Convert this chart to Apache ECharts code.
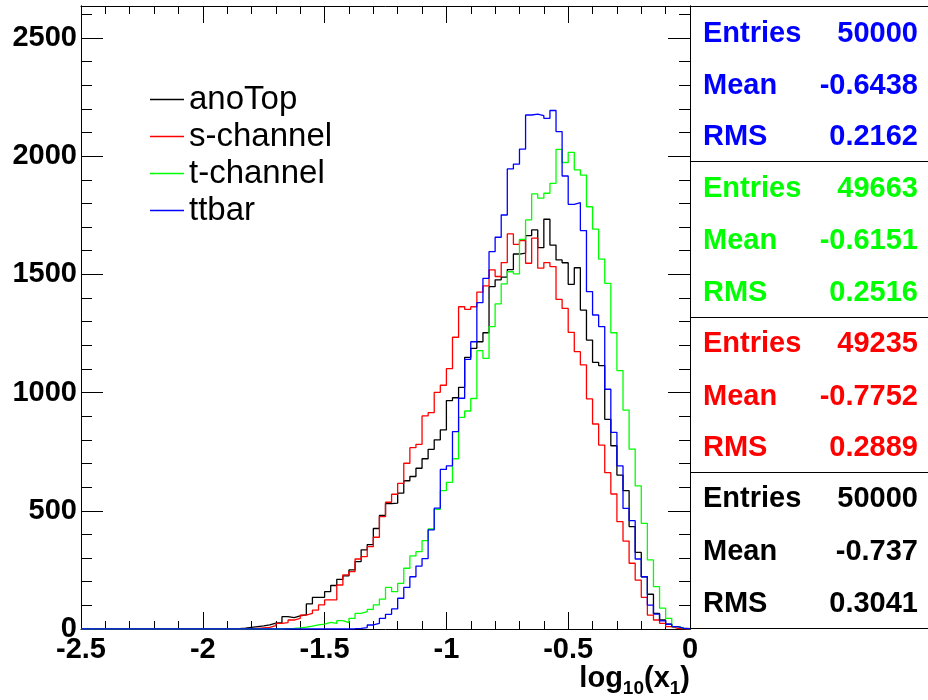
<!DOCTYPE html>
<html>
<head>
<meta charset="utf-8">
<script src="https://cdn.jsdelivr.net/npm/echarts@6/dist/echarts.min.js"></script>
<style>html,body{margin:0;padding:0;background:#fff;}#chart{width:928px;height:700px;}</style>
</head>
<body>
<div id="chart"></div>
<script>
// Histogram binning (100 bins from -2.5 to 0)
var xMin = -2.5, xMax = 0, nBins = 100;
var yMax = 2635;
var xTickLabels = ['-2.5', '-2', '-1.5', '-1', '-0.5', '0'];
var yTickLabels = ['0', '500', '1000', '1500', '2000', '2500'];

var seriesNames = ['anoTop', 's-channel', 't-channel', 'ttbar'];
var seriesColors = ['#000000', '#ff0000', '#00ff00', '#0000ff'];

var anoTop = [0,0,0,0,0,0,0,0,0,0, 0,0,0,0,0,0,0,0,0,0, 0,0,0,1,1,2,4,7,10,13,
  17,25,27,52,48,56,60,106,134,134, 158,184,210,225,250,285,335,357,425,480,
  530,532,575,627,645,680,720,760,800,842, 966,978,1022,1149,1187,1215,1253,1448,1477,1488,
  1520,1586,1590,1664,1688,1613,1733,1624,1561,1549, 1458,1528,1349,1222,1128,1114,887,775,651,585,
  433,324,221,147,66,38,21,10,4,1];
var sChannel = [0,0,0,0,0,0,0,0,0,0, 0,0,0,0,0,0,0,0,0,0, 0,0,0,0,0,0,0,1,3,5,
  7,14,24,27,38,45,59,66,80,102, 123,123,186,229,243,296,306,348,388,475,
  536,570,616,701,767,781,901,915,1001,1031, 1101,1234,1363,1352,1363,1425,1451,1519,1491,1550,
  1671,1627,1643,1547,1653,1526,1550,1533,1394,1356, 1255,1173,1117,973,867,778,661,571,454,372,
  278,207,134,59,38,24,10,3,1,0];
var tChannel = [0,0,0,0,0,0,0,0,0,0, 0,0,0,0,0,0,0,0,0,0, 0,0,0,0,0,0,0,0,0,0,
  0,0,0,2,3,5,8,12,17,21, 28,24,35,27,45,66,73,83,102,126,
  176,158,193,257,309,327,374,423,506,585, 620,720,895,922,975,1177,1145,1279,1375,1460,
  1511,1502,1648,1730,1840,1822,1843,1885,2029,1973, 2016,1942,1920,1786,1691,1564,1462,1253,1093,926,
  761,605,447,292,179,88,45,10,3,1];
var ttbar = [0,0,0,0,0,0,0,0,0,0, 0,0,0,0,0,0,0,0,0,0, 0,0,0,0,0,0,0,0,0,0,
  0,0,0,0,0,0,0,0,0,0, 0,0,0,0,1,3,6,17,24,45,
  62,85,130,176,221,266,298,419,511,675, 690,835,976,1140,1215,1380,1483,1596,1657,1751,
  1946,1966,2030,2174,2178,2171,2160,2193,2104,1916, 1796,1803,1685,1427,1328,1279,1014,832,690,510,
  458,296,221,101,63,34,20,10,3,1];

var statsColors = ['#0000ff', '#00ff00', '#ff0000', '#000000'];
var statsEntries = ['50000', '49663', '49235', '50000'];
var statsMean = ['-0.6438', '-0.6151', '-0.7752', '-0.737'];
var statsRMS = ['0.2162', '0.2516', '0.2889', '0.3041'];

var seriesValues = [anoTop, sChannel, tChannel, ttbar];

function toSteps(vals) {
  var w = (xMax - xMin) / nBins;
  var pts = [];
  for (var i = 0; i < vals.length; i++) pts.push([xMin + i * w, vals[i]]);
  pts.push([xMax, vals[vals.length - 1]]);
  return pts;
}

var FONT = '"Liberation Sans", Arial, Helvetica, sans-serif';

var chart = echarts.init(document.getElementById('chart'), null, {renderer: 'canvas'});

function frameLine() { return {show: true, onZero: false, lineStyle: {color: '#000', width: 1}}; }
function xAx(pos, len, minorLen, labels) {
  return {
    type: 'value', position: pos, min: xMin, max: xMax, interval: 0.5,
    axisLine: frameLine(),
    axisTick: {show: true, inside: true, length: len, lineStyle: {color: '#000'}},
    minorTick: {show: true, splitNumber: 5, length: minorLen, lineStyle: {color: '#000'}},
    splitLine: {show: false},
    axisLabel: labels ? {show: true, color: '#000', fontFamily: FONT, fontWeight: 'bold', fontSize: 29, margin: 6,
      formatter: function (v) { var idx = Math.round((v - xMin) / 0.5); return xTickLabels[idx] || ''; }} : {show: false}
  };
}
function yAx(pos, interval, len, labels) {
  return {
    type: 'value', position: pos, min: 0, max: yMax, interval: interval,
    axisLine: frameLine(),
    axisTick: {show: true, inside: true, length: len, lineStyle: {color: '#000'}},
    splitLine: {show: false},
    axisLabel: labels ? {show: true, color: '#000', fontFamily: FONT, fontWeight: 'bold', fontSize: 29, margin: 4,
      showMaxLabel: false,
      formatter: function (v) { return (v % 500 === 0) ? (yTickLabels[v / 500] || '') : ''; }} : {show: false}
  };
}

var series = seriesNames.map(function (name, i) {
  return {
    name: name, type: 'line', step: 'end', xAxisIndex: 0, yAxisIndex: 0,
    data: toSteps(seriesValues[i]), symbol: 'none', showSymbol: false,
    lineStyle: {color: seriesColors[i], width: 1.3}, itemStyle: {color: seriesColors[i]},
    silent: true, z: 2 + i, clip: true
  };
});

var graphics = [];
var boxL = 690, boxR = 928;
var rowY = [[34, 86, 137], [189, 241, 293], [344, 397, 448], [499, 552, 604]];
var dividers = [6.5, 161.5, 317.5, 472.5, 628.5];
dividers.forEach(function (y) {
  graphics.push({type: 'line', shape: {x1: boxL, y1: y, x2: boxR, y2: y}, style: {stroke: '#000', lineWidth: 1}, silent: true});
});
for (var g = 0; g < 4; g++) {
  var labels = ['Entries', 'Mean', 'RMS'];
  var vals = [statsEntries[g], statsMean[g], statsRMS[g]];
  for (var r = 0; r < 3; r++) {
    graphics.push({type: 'text', x: 703, y: rowY[g][r], silent: true,
      style: {text: labels[r], fill: statsColors[g], font: 'bold 29px ' + FONT, align: 'left', verticalAlign: 'middle', textAlign: 'left', textVerticalAlign: 'middle'}});
    graphics.push({type: 'text', x: 918, y: rowY[g][r], silent: true,
      style: {text: vals[r], fill: statsColors[g], font: 'bold 29px ' + FONT, align: 'right', verticalAlign: 'middle', textAlign: 'right', textVerticalAlign: 'middle'}});
  }
}
// x-axis title log10(x1)
graphics.push({type: 'text', x: 690, y: 698, silent: true,
  style: {
    text: '{m|log}{s|10}{m|(x}{s|1}{m|)}',
    align: 'right', verticalAlign: 'bottom', textAlign: 'right', textVerticalAlign: 'bottom',
    rich: {
      m: {fontFamily: FONT, fontWeight: 'bold', fontSize: 29, fill: '#000', color: '#000', lineHeight: 34, verticalAlign: 'top'},
      s: {fontFamily: FONT, fontWeight: 'bold', fontSize: 19, fill: '#000', color: '#000', lineHeight: 34, verticalAlign: 'bottom'}
    }
  }});

chart.setOption({
  animation: false,
  backgroundColor: '#fff',
  grid: {left: 81, right: 238, top: 6, bottom: 71, containLabel: false},
  xAxis: [xAx('bottom', 17, 8, true), xAx('top', 17, 8, false)],
  yAxis: [yAx('left', 500, 22, true), yAx('left', 100, 11, false), yAx('right', 500, 22, false), yAx('right', 100, 11, false)],
  legend: {
    show: true, orient: 'vertical', left: 150, top: 81, itemGap: 0, padding: 0,
    itemWidth: 34, itemHeight: 1.3, icon: 'rect',
    data: seriesNames,
    textStyle: {fontFamily: FONT, fontSize: 33, color: '#000', lineHeight: 37},
    selectedMode: false
  },
  series: series,
  graphic: graphics
});
</script>
</body>
</html>
